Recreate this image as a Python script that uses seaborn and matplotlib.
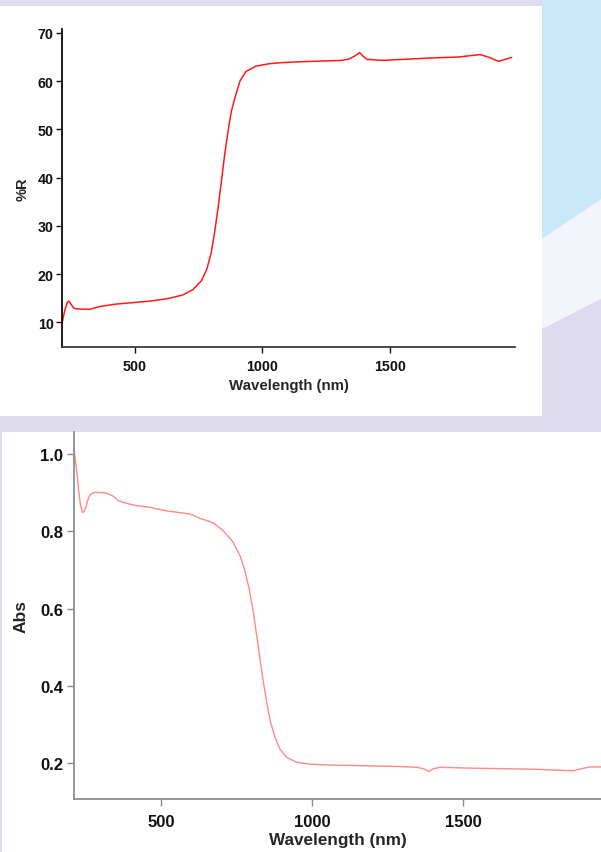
import numpy as np
import matplotlib
matplotlib.use("Agg")
import matplotlib.pyplot as plt
from matplotlib.patches import Rectangle, Polygon
import seaborn as sns
import pandas as pd

sns.set_theme(style="ticks")
plt.rcParams["font.family"] = ["Liberation Sans", "DejaVu Sans"]
plt.rcParams["font.weight"] = "bold"

# Diffuse reflectance spectrum (%R)
refl_wavelength = [215, 226, 236, 242, 250, 260, 272, 324, 363, 428, 559, 637, 689, 728,
                   761, 783, 800, 813, 826, 839, 852, 865, 878, 895, 913, 936, 975,
                   1027, 1067, 1144, 1314, 1340, 1362, 1381, 1398, 1411, 1470, 1665,
                   1769, 1854, 1890, 1925, 1977]
refl_percent = [9.8, 12.5, 14.2, 14.4, 13.8, 13.0, 12.8, 12.7, 13.3, 13.8, 14.4, 15.0,
                15.7, 16.8, 18.6, 21.1, 24.5, 28.7, 33.5, 39.0, 44.6, 49.4, 53.6, 57.0,
                60.1, 62.0, 63.1, 63.6, 63.8, 64.0, 64.3, 64.6, 65.2, 65.9, 65.0, 64.5,
                64.3, 64.8, 65.0, 65.5, 64.9, 64.1, 64.9]

# Absorbance spectrum (Abs)
abs_wavelength = [211, 218, 225, 232, 239, 245, 250, 257, 264, 275, 286, 319, 341, 358,
                  407, 463, 518, 595, 628, 672, 705, 738, 761, 777, 791, 805, 816, 827,
                  838, 849, 862, 877, 893, 915, 948, 992, 1053, 1291, 1346, 1370, 1385,
                  1400, 1424, 1512, 1733, 1860, 1890, 1920, 1960]
abs_value = [1.013, 0.970, 0.918, 0.870, 0.849, 0.852, 0.862, 0.882, 0.894, 0.900,
             0.901, 0.899, 0.891, 0.879, 0.868, 0.862, 0.853, 0.845, 0.834, 0.822,
             0.802, 0.772, 0.737, 0.698, 0.651, 0.591, 0.530, 0.470, 0.410, 0.358,
             0.306, 0.267, 0.237, 0.216, 0.203, 0.198, 0.196, 0.192, 0.190, 0.186,
             0.179, 0.186, 0.190, 0.188, 0.185, 0.181, 0.186, 0.191, 0.191]

refl_ticks_y = [10, 20, 30, 40, 50, 60, 70]
abs_ticks_y = [0.2, 0.4, 0.6, 0.8, 1.0]
wl_ticks = [500, 1000, 1500]

W, H = 601, 853
fig = plt.figure(figsize=(W / 100, H / 100), dpi=100, facecolor="#dedbf1")


def px_box(x0, y0, x1, y1):
    """Convert a pixel box (top-left origin) into figure fractions."""
    return [x0 / W, 1 - y1 / H, (x1 - x0) / W, (y1 - y0) / H]


# backdrop panels
fig.patches.append(Polygon([(542 / W, 1), (1, 1), (1, 1 - 200 / H), (542 / W, 1 - 240 / H)],
                           closed=True, transform=fig.transFigure,
                           facecolor="#c9e9f9", edgecolor="none", zorder=-3))
fig.patches.append(Polygon([(542 / W, 1 - 240 / H), (1, 1 - 200 / H), (1, 1 - 300 / H),
                            (542 / W, 1 - 330 / H)],
                           closed=True, transform=fig.transFigure,
                           facecolor="#f4f4fb", edgecolor="none", zorder=-3))
fig.patches.append(Rectangle((0, 1 - 417 / H), 542 / W, 410 / H, transform=fig.transFigure,
                             facecolor="white", edgecolor="none", zorder=-2))
fig.patches.append(Rectangle((2 / W, 0), 599 / W, 420 / H, transform=fig.transFigure,
                             facecolor="white", edgecolor="none", zorder=-2))

# --- top: reflectance ---
ax1 = fig.add_axes(px_box(62, 30, 515, 348))
ax1.set_facecolor("none")
df1 = pd.DataFrame({"wl": refl_wavelength, "r": refl_percent})
sns.lineplot(data=df1, x="wl", y="r", ax=ax1, color="#ff1a1a", linewidth=1.1)
ax1.set_xlim(215, 1990)
ax1.set_ylim(4.9, 70.8)
ax1.set_xticks(wl_ticks)
ax1.set_yticks(refl_ticks_y)
ax1.set_xlabel("Wavelength (nm)", fontsize=10.8, fontweight="bold", labelpad=3)
ax1.set_ylabel("%R", fontsize=10.5, fontweight="bold", labelpad=6)
for s in ["top", "right"]:
    ax1.spines[s].set_visible(False)
ax1.spines["left"].set_color("black")
ax1.spines["bottom"].set_color("#333333")
ax1.tick_params(axis="both", length=4, width=1, labelsize=10.3, pad=2, colors="#111111")
ax1.tick_params(axis="x", pad=5)
for lbl in ax1.get_xticklabels() + ax1.get_yticklabels():
    lbl.set_fontweight("bold")

# --- bottom: absorbance ---
ax2 = fig.add_axes(px_box(74, 433, 601, 800))
ax2.set_facecolor("none")
df2 = pd.DataFrame({"wl": abs_wavelength, "a": abs_value})
sns.lineplot(data=df2, x="wl", y="a", ax=ax2, color="#ff8a8a", linewidth=1.0)
ax2.set_xlim(211, 1956)
ax2.set_ylim(0.108, 1.057)
ax2.set_xticks(wl_ticks)
ax2.set_yticks(abs_ticks_y)
ax2.set_xlabel("Wavelength (nm)", fontsize=12.3, fontweight="bold", labelpad=2)
ax2.set_ylabel("Abs", fontsize=12.5, fontweight="bold", labelpad=8)
for s in ["top", "right"]:
    ax2.spines[s].set_visible(False)
for s in ["left", "bottom"]:
    ax2.spines[s].set_color("#8a8a8a")
ax2.tick_params(axis="both", length=5, width=1, labelsize=12, pad=3,
                colors="#8a8a8a", labelcolor="#111111")
ax2.tick_params(axis="x", pad=6)
ax2.set_yticklabels([f"{v:.1f}" for v in abs_ticks_y])
for lbl in ax2.get_xticklabels() + ax2.get_yticklabels():
    lbl.set_fontweight("bold")

fig.savefig("out.png", dpi=100, facecolor=fig.get_facecolor())
